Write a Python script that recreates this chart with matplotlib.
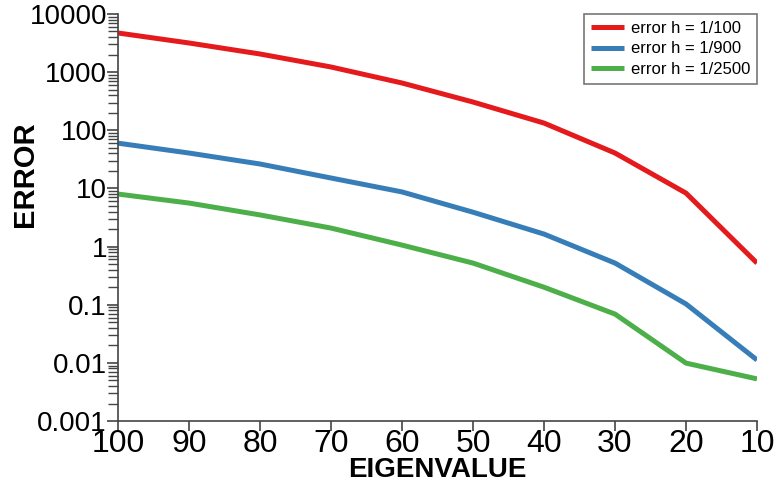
import matplotlib
matplotlib.use("Agg")
import matplotlib.pyplot as plt
from matplotlib.ticker import LogLocator, FixedLocator, FuncFormatter, NullFormatter

eigenvalues = [100, 90, 80, 70, 60, 50, 40, 30, 20, 10]
error_h100 = [4710, 3170, 2050, 1225, 650, 306, 133, 40.6, 8.3, 0.52]
error_h900 = [60, 40.6, 26.3, 15.1, 8.7, 3.9, 1.64, 0.52, 0.103, 0.0112]
error_h2500 = [8.0, 5.6, 3.5, 2.08, 1.06, 0.52, 0.20, 0.069, 0.0099, 0.0053]
series_labels = ["error h = 1/100", "error h = 1/900", "error h = 1/2500"]
y_tick_labels = ["0.001", "0.01", "0.1", "1", "10", "100", "1000", "10000"]

plt.rcParams["font.family"] = ["Liberation Sans", "DejaVu Sans"]

fig = plt.figure(figsize=(7.75, 4.87), dpi=100)
ax = fig.add_axes([0.1523, 0.1355, 0.8245, 0.8358])

colors = ["#e41a1c", "#377eb8", "#4daf4a"]
for ys, lab, c in zip([error_h100, error_h900, error_h2500], series_labels, colors):
    ax.plot(eigenvalues, ys, color=c, linewidth=3.6, label=lab, solid_capstyle="butt")

ax.set_yscale("log")
ax.set_ylim(0.001, 10000)
ax.set_xlim(100, 10)

ax.xaxis.set_major_locator(FixedLocator(eigenvalues))
ax.yaxis.set_major_locator(FixedLocator([float(s) for s in y_tick_labels]))
ax.yaxis.set_major_formatter(FuncFormatter(lambda v, pos: y_tick_labels[pos] if pos is not None and pos < len(y_tick_labels) else ""))
ax.yaxis.set_minor_locator(LogLocator(base=10, subs=range(2, 10)))
ax.yaxis.set_minor_formatter(NullFormatter())

ax.tick_params(axis="y", which="major", labelsize=20, length=8, width=1.2, pad=0, color="#444444")
ax.tick_params(axis="y", which="minor", length=7, width=1.0, color="#444444")
ax.tick_params(axis="x", which="major", labelsize=23, length=7, width=1.2, pad=-1, color="#444444")

for side in ["top", "right"]:
    ax.spines[side].set_visible(False)
for side in ["left", "bottom"]:
    ax.spines[side].set_color("#444444")
    ax.spines[side].set_linewidth(1.2)

ax.set_xlabel("EIGENVALUE", fontsize=20, fontweight="bold", va="center")
ax.xaxis.set_label_coords(0.5, -0.12)
ax.set_ylabel("ERROR", fontsize=21, fontweight="bold", va="center")
ax.yaxis.set_label_coords(-0.146, 0.607)

leg = ax.legend(loc="upper right", fontsize=12, frameon=True, fancybox=False,
                edgecolor="#555555", borderpad=0.4, handlelength=2.0,
                handletextpad=0.4, labelspacing=0.35, borderaxespad=0.0,
                bbox_to_anchor=(1.0, 1.0))
leg.get_frame().set_linewidth(1.2)

fig.savefig("out.png", dpi=100)
